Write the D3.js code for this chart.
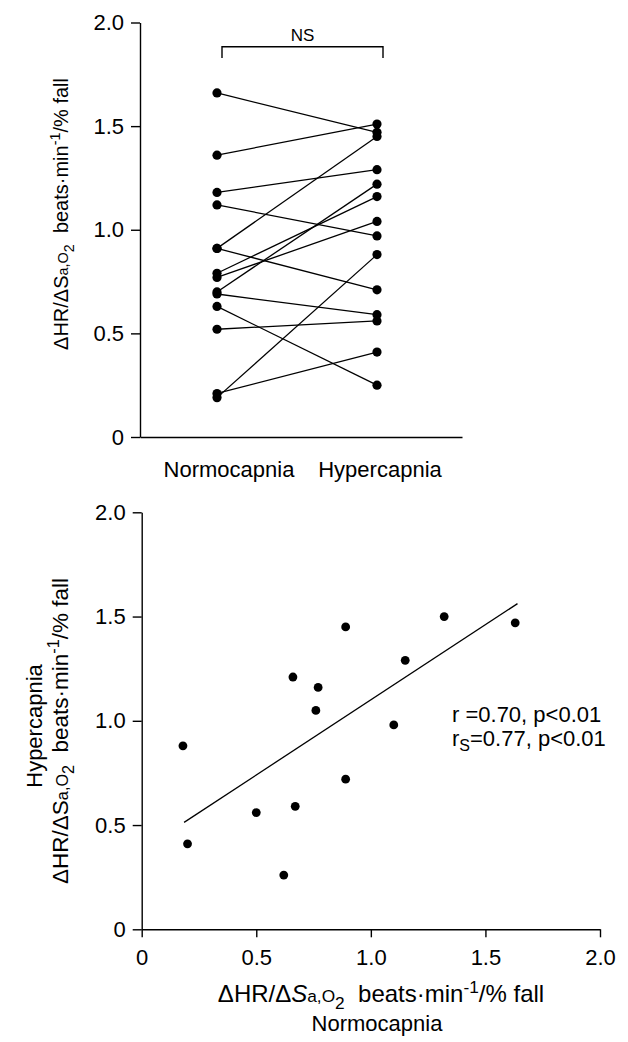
<!DOCTYPE html>
<html>
<head>
<meta charset="UTF-8">
<title>HR response to desaturation</title>
<style>
  body { margin: 0; background: #fff; }
  svg { font-family: "Liberation Sans", Arial, sans-serif; }
  .axis path, .axis line { stroke: #000; stroke-width: 1.4px; }
  .axis text { font-size: 22px; fill: #000; }
</style>
<script src="https://d3js.org/d3.v7.min.js"></script>
</head>
<body>
<script>
// paired values, top panel (beats.min-1/% fall)
var conditions = ["Normocapnia", "Hypercapnia"];
var normo = [1.66, 1.36, 1.18, 1.12, 0.91, 0.91, 0.79, 0.77, 0.70, 0.69, 0.63, 0.52, 0.19, 0.21];
var hyper = [1.47, 1.51, 1.29, 0.97, 1.45, 0.71, 1.16, 1.04, 1.22, 0.59, 0.25, 0.56, 0.88, 0.41];

// scatter, bottom panel
var scatterX = [1.32, 1.63, 0.89, 1.15, 0.66, 0.77, 0.76, 1.10, 0.18, 0.89, 0.67, 0.50, 0.20, 0.62];
var scatterY = [1.50, 1.47, 1.45, 1.29, 1.21, 1.16, 1.05, 0.98, 0.88, 0.72, 0.59, 0.56, 0.41, 0.26];
var fitX = [0.185, 1.64];
var fitY = [0.513, 1.562];

var yTicks = [0, 0.5, 1.0, 1.5, 2.0];
var xTicks = [0, 0.5, 1.0, 1.5, 2.0];
var fmt = function(d) { return d === 0 ? "0" : d.toFixed(1); };

var svg = d3.select("body").append("svg")
  .attr("width", 628)
  .attr("height", 1042);

// axis label with subscripts / superscripts
function unitLabel(t, size, italicS) {
  var small = size * 0.72;
  t.append("tspan").text("\u0394HR/\u0394");
  t.append("tspan").text("S").style("font-style", italicS ? "italic" : "normal");
  t.append("tspan").attr("font-size", small).text("a,O");
  t.append("tspan").attr("font-size", small).attr("dy", size * 0.28).text("2");
  t.append("tspan").attr("dy", -size * 0.28).text("\u00a0\u00a0beats\u00b7min");
  t.append("tspan").attr("font-size", small).attr("dy", -size * 0.38).text("-1");
  t.append("tspan").attr("dy", size * 0.38).text("/% fall");
}

// ---------- top panel ----------
var yTop = d3.scaleLinear().domain([0, 2]).range([437, 22.5]);
var xTop = d3.scalePoint().domain(conditions).range([217, 377]);

svg.append("g")
  .attr("class", "axis")
  .attr("transform", "translate(140,0)")
  .call(d3.axisLeft(yTop).tickValues(yTicks).tickFormat(fmt).tickSize(9).tickPadding(7).tickSizeOuter(0));

svg.append("g")
  .attr("class", "axis")
  .attr("transform", "translate(0,437)")
  .call(d3.axisBottom(d3.scaleLinear().range([140, 462])).tickValues([]).tickSizeOuter(0));

var labelShift = [12, 3];
svg.selectAll(".cond")
  .data(conditions)
  .enter().append("text")
  .attr("class", "cond")
  .attr("x", function(d, i) { return xTop(d) + labelShift[i]; })
  .attr("y", 477)
  .attr("text-anchor", "middle")
  .style("font-size", "22px")
  .text(function(d) { return d; });

var pairs = normo.map(function(v, i) { return [v, hyper[i]]; });

svg.selectAll(".pair")
  .data(pairs)
  .enter().append("line")
  .attr("class", "pair")
  .attr("x1", xTop(conditions[0]))
  .attr("x2", xTop(conditions[1]))
  .attr("y1", function(d) { return yTop(d[0]); })
  .attr("y2", function(d) { return yTop(d[1]); })
  .attr("stroke", "#000")
  .attr("stroke-width", 1.3);

conditions.forEach(function(c, k) {
  svg.selectAll(".dot" + k)
    .data(pairs)
    .enter().append("circle")
    .attr("cx", xTop(c))
    .attr("cy", function(d) { return yTop(d[k]); })
    .attr("r", 4.6)
    .attr("fill", "#000");
});

// NS bracket
var bx0 = xTop(conditions[0]) + 5, bx1 = xTop(conditions[1]) + 6;
svg.append("path")
  .attr("d", "M" + bx0 + ",58V46.7H" + bx1 + "V58")
  .attr("fill", "none")
  .attr("stroke", "#000")
  .attr("stroke-width", 1.4);
svg.append("text")
  .attr("x", (bx0 + bx1) / 2)
  .attr("y", 41)
  .attr("text-anchor", "middle")
  .style("font-size", "17px")
  .text("NS");

var ylab1 = svg.append("text")
  .attr("transform", "translate(68,214) rotate(-90)")
  .attr("text-anchor", "middle")
  .style("font-size", "20px");
unitLabel(ylab1, 20, false);

// ---------- bottom panel ----------
var xS = d3.scaleLinear().domain([0, 2]).range([141.7, 600]);
var yS = d3.scaleLinear().domain([0, 2]).range([929.3, 512.3]);

svg.append("g")
  .attr("class", "axis")
  .attr("transform", "translate(141.7,0)")
  .call(d3.axisLeft(yS).tickValues(yTicks).tickFormat(fmt).tickSize(9).tickPadding(7).tickSizeOuter(0));

svg.append("g")
  .attr("class", "axis")
  .attr("transform", "translate(0,929.3)")
  .call(d3.axisBottom(xS).tickValues(xTicks).tickFormat(fmt).tickSize(8).tickPadding(12).tickSizeOuter(0));

svg.append("line")
  .attr("x1", xS(fitX[0])).attr("y1", yS(fitY[0]))
  .attr("x2", xS(fitX[1])).attr("y2", yS(fitY[1]))
  .attr("stroke", "#000")
  .attr("stroke-width", 1.3);

svg.selectAll(".sdot")
  .data(scatterX)
  .enter().append("circle")
  .attr("class", "sdot")
  .attr("cx", function(d) { return xS(d); })
  .attr("cy", function(d, i) { return yS(scatterY[i]); })
  .attr("r", 4.4)
  .attr("fill", "#000");

svg.append("text")
  .attr("x", 452).attr("y", 722)
  .style("font-size", "22px")
  .text("r =0.70, p<0.01");
var rs = svg.append("text")
  .attr("x", 452).attr("y", 746)
  .style("font-size", "22px");
rs.append("tspan").text("r");
rs.append("tspan").attr("font-size", 16).attr("dy", 5).text("S");
rs.append("tspan").attr("dy", -5).text("=0.77, p<0.01");

var ylab2 = svg.append("text")
  .attr("transform", "translate(68,731) rotate(-90)")
  .attr("text-anchor", "middle")
  .style("font-size", "22.5px");
unitLabel(ylab2, 22.5, false);
svg.append("text")
  .attr("transform", "translate(42,726) rotate(-90)")
  .attr("text-anchor", "middle")
  .style("font-size", "22px")
  .text("Hypercapnia");

var xlab = svg.append("text")
  .attr("x", 381).attr("y", 1002)
  .attr("text-anchor", "middle")
  .style("font-size", "24px");
unitLabel(xlab, 24, true);
svg.append("text")
  .attr("x", 377).attr("y", 1031)
  .attr("text-anchor", "middle")
  .style("font-size", "22px")
  .text("Normocapnia");
</script>
</body>
</html>
